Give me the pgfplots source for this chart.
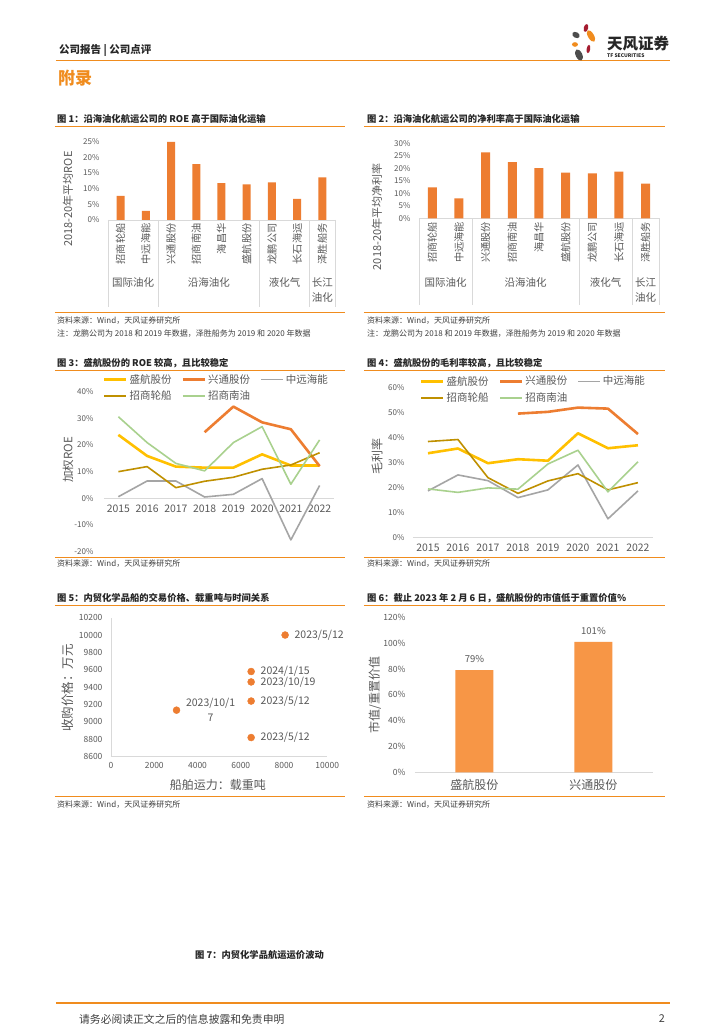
\documentclass[border=0pt]{standalone}
\usepackage{fontspec}
\setmainfont{Noto Sans CJK SC}
\usepackage{pgfplots}
\pgfplotsset{compat=1.18}
\newcommand{\fs}[1]{\fontsize{#1}{#1}\selectfont}
\definecolor{tfo}{HTML}{F08C1E}
\definecolor{bar}{HTML}{ED7D31}
\definecolor{bar6}{HTML}{F79646}
\definecolor{txt}{HTML}{595959}
\definecolor{axl}{HTML}{D9D9D9}
\definecolor{ttl}{HTML}{262626}
\definecolor{src}{HTML}{404040}
\definecolor{c1}{HTML}{FFC000}
\definecolor{c2}{HTML}{ED7D31}
\definecolor{c3}{HTML}{A5A5A5}
\definecolor{c4}{HTML}{BF9000}
\definecolor{c5}{HTML}{A9D18E}
\definecolor{lred}{HTML}{A51C30}
\definecolor{lgray}{HTML}{4D4D4D}
\pgfplotsset{every axis/.append style={scale only axis, clip=false, anchor=south west,
  /pgf/number format/assume math mode=true, major tick length=0pt,
  tick label style={text=txt}}}
\begin{document}
\begin{tikzpicture}
\path[fill=white] (0pt,0pt) rectangle (724pt,1024pt);
\begin{scope}[shift={(0pt,1024pt)}, x=1pt, y=-1pt]
% header
\node[anchor=west, font=\fs{10.5}\bfseries, text=ttl, inner sep=0pt] at (59,50.7) {公司报告 | 公司点评};
\draw[tfo, line width=1.6pt] (56,60.7) -- (670,60.7);
\node[anchor=west, font=\fs{17}\bfseries, text=tfo, inner sep=0pt] at (58,78) {附录};
% logo
\fill[lred, rotate around={-15:(586,28)}] (586,28) ellipse [x radius=2.2pt, y radius=4pt];
\fill[tfo, rotate around={30:(591,36)}] (591,36) ellipse [x radius=3pt, y radius=6.5pt];
\fill[lgray, rotate around={-30:(576,35)}] (576,35) ellipse [x radius=4pt, y radius=2.8pt];
\fill[tfo] (575,44.5) ellipse [x radius=3pt, y radius=2.3pt];
\fill[lred, rotate around={-10:(588.5,49)}] (588.5,49) ellipse [x radius=1.8pt, y radius=4.2pt];
\fill[lgray, rotate around={25:(579,55)}] (579,55) ellipse [x radius=3.3pt, y radius=6pt];
\node[anchor=west, font=\fs{15.5}\bfseries, text=ttl, inner sep=0pt] at (607,43.5) {天风证券};
\node[anchor=west, font=\fs{5}\bfseries, text=ttl, inner sep=0pt] at (607,56) {TF SECURITIES};
% chart 1 texts
\node[anchor=west, font=\fs{9.3}\bfseries, text=ttl, inner sep=0pt] at (57,119) {图 1：沿海油化航运公司的 ROE 高于国际油化运输};
\draw[tfo, line width=1pt] (55,126.5) -- (345,126.5);
\node[rotate=90, font=\fs{11}, text=txt] at (68,199) {2018-20年平均ROE};
\draw[tfo, line width=1pt] (55,312.7) -- (345,312.7);
\node[anchor=west, font=\fs{8}, text=src, inner sep=0pt] at (57,321) {资料来源：Wind，天风证券研究所};
\node[anchor=west, font=\fs{8}, text=src, inner sep=0pt] at (57,334) {注：龙鹏公司为 2018 和 2019 年数据，泽胜船务为 2019 和 2020 年数据};
% chart 2 texts
\node[anchor=west, font=\fs{9.3}\bfseries, text=ttl, inner sep=0pt] at (367,119) {图 2：沿海油化航运公司的净利率高于国际油化运输};
\draw[tfo, line width=1pt] (364,126.5) -- (665,126.5);
\node[rotate=90, font=\fs{11}, text=txt] at (377,217) {2018-20年平均净利率};
\draw[tfo, line width=1pt] (364,312.7) -- (665,312.7);
\node[anchor=west, font=\fs{8}, text=src, inner sep=0pt] at (367,321) {资料来源：Wind，天风证券研究所};
\node[anchor=west, font=\fs{8}, text=src, inner sep=0pt] at (367,334) {注：龙鹏公司为 2018 和 2019 年数据，泽胜船务为 2019 和 2020 年数据};
% chart 3 texts
\node[anchor=west, font=\fs{9.3}\bfseries, text=ttl, inner sep=0pt] at (57,363) {图 3：盛航股份的 ROE 较高，且比较稳定};
\draw[tfo, line width=1pt] (55,371) -- (345,371);
\node[rotate=90, font=\fs{11.5}, text=txt] at (68,460) {加权ROE};
\draw[tfo, line width=1pt] (55,557.3) -- (345,557.3);
\node[anchor=west, font=\fs{8}, text=src, inner sep=0pt] at (57,564) {资料来源：Wind，天风证券研究所};
% chart 4 texts
\node[anchor=west, font=\fs{9.3}\bfseries, text=ttl, inner sep=0pt] at (367,363) {图 4：盛航股份的毛利率较高，且比较稳定};
\draw[tfo, line width=1pt] (364,371) -- (665,371);
\node[rotate=90, font=\fs{12}, text=txt] at (377,457) {毛利率};
\draw[tfo, line width=1pt] (364,557.3) -- (665,557.3);
\node[anchor=west, font=\fs{8}, text=src, inner sep=0pt] at (367,564) {资料来源：Wind，天风证券研究所};
% chart 5 texts
\node[anchor=west, font=\fs{9.3}\bfseries, text=ttl, inner sep=0pt] at (57,598) {图 5：内贸化学品船的交易价格、载重吨与时间关系};
\draw[tfo, line width=1pt] (55,606) -- (345,606);
\node[rotate=90, font=\fs{12.5}, text=txt] at (68,688) {收购价格：万元};
\node[font=\fs{12}, text=txt] at (218,785) {船舶运力：载重吨};
\draw[tfo, line width=1pt] (55,797) -- (345,797);
\node[anchor=west, font=\fs{8}, text=src, inner sep=0pt] at (57,805) {资料来源：Wind，天风证券研究所};
% chart 6 texts
\node[anchor=west, font=\fs{9.3}\bfseries, text=ttl, inner sep=0pt] at (367,598) {图 6：截止 2023 年 2 月 6 日，盛航股份的市值低于重置价值\%};
\draw[tfo, line width=1pt] (364,606) -- (665,606);
\node[rotate=90, font=\fs{12}, text=txt] at (375,695) {市值/重置价值};
\draw[tfo, line width=1pt] (364,797) -- (665,797);
\node[anchor=west, font=\fs{8}, text=src, inner sep=0pt] at (367,805) {资料来源：Wind，天风证券研究所};
% figure 7 & footer
\node[anchor=west, font=\fs{9.3}\bfseries, text=ttl, inner sep=0pt] at (195,955) {图 7：内贸化学品航运运价波动};
\draw[tfo, line width=1.6pt] (56,1003) -- (670,1003);
\node[anchor=west, font=\fs{10.8}, text=src, inner sep=0pt] at (79,1019) {请务必阅读正文之后的信息披露和免责申明};
\node[anchor=east, font=\fs{10.8}, text=src, inner sep=0pt] at (665,1019) {2};
\end{scope}

% ---------- chart 1 ----------
\begin{axis}[at={(108pt,804pt)}, width=227pt, height=78.3pt,
  xmin=0, xmax=9, ymin=0, ymax=25,
  axis x line*=bottom, axis y line*=left,
  x axis line style={draw=axl, line width=0.8pt}, y axis line style={draw=none},
  xtick={0.5,1.5,2.5,3.5,4.5,5.5,6.5,7.5,8.5},
  xticklabels={招商轮船,中远海能,兴通股份,招商南油,海昌华,盛航股份,龙鹏公司,长石海运,泽胜船务},
  xticklabel style={rotate=90, anchor=east, font=\fs{10.2}},
  ytick={0,5,...,25}, yticklabel={\pgfmathprintnumber{\tick}\%},
  yticklabel style={font=\fs{8}, xshift=-5pt}]
\addplot[ybar, bar width=8pt, fill=bar, draw=none] coordinates {(0.5,7.7)(1.5,2.9)(2.5,24.9)(3.5,17.8)(4.5,11.8)(5.5,11.4)(6.5,12.0)(7.5,6.7)(8.5,13.6)};
\pgfplotsinvokeforeach{0,2,6,8,9}{\draw[axl, line width=0.8pt] (axis cs:#1,0) -- ++(0pt,-87pt);}
\node[font=\fs{10.5}, text=txt, yshift=-63pt] at (axis cs:1,0) {国际油化};
\node[font=\fs{10.5}, text=txt, yshift=-63pt] at (axis cs:4,0) {沿海油化};
\node[font=\fs{10.5}, text=txt, yshift=-63pt] at (axis cs:7,0) {液化气};
\node[font=\fontsize{10.5}{15}\selectfont, align=center, text=txt, yshift=-70.5pt] at (axis cs:8.5,0) {长江\\油化};
\end{axis}

% ---------- chart 2 ----------
\begin{axis}[at={(419pt,805.7pt)}, width=240pt, height=75pt,
  xmin=0, xmax=9, ymin=0, ymax=30,
  axis x line*=bottom, axis y line*=left,
  x axis line style={draw=axl, line width=0.8pt}, y axis line style={draw=none},
  xtick={0.5,1.5,2.5,3.5,4.5,5.5,6.5,7.5,8.5},
  xticklabels={招商轮船,中远海能,兴通股份,招商南油,海昌华,盛航股份,龙鹏公司,长石海运,泽胜船务},
  xticklabel style={rotate=90, anchor=east, font=\fs{10.2}},
  ytick={0,5,...,30}, yticklabel={\pgfmathprintnumber{\tick}\%},
  yticklabel style={font=\fs{8}, xshift=-5pt}]
\addplot[ybar, bar width=9pt, fill=bar, draw=none] coordinates {(0.5,12.4)(1.5,8.0)(2.5,26.4)(3.5,22.5)(4.5,20.1)(5.5,18.3)(6.5,18.0)(7.5,18.7)(8.5,13.9)};
\pgfplotsinvokeforeach{0,2,6,8,9}{\draw[axl, line width=0.8pt] (axis cs:#1,0) -- ++(0pt,-87pt);}
\node[font=\fs{10.5}, text=txt, yshift=-64pt] at (axis cs:1,0) {国际油化};
\node[font=\fs{10.5}, text=txt, yshift=-64pt] at (axis cs:4,0) {沿海油化};
\node[font=\fs{10.5}, text=txt, yshift=-64pt] at (axis cs:7,0) {液化气};
\node[font=\fontsize{10.5}{15}\selectfont, align=center, text=txt, yshift=-71.5pt] at (axis cs:8.5,0) {长江\\油化};
\end{axis}

% ---------- chart 3 ----------
\begin{axis}[at={(104pt,472.3pt)}, width=230pt, height=160pt,
  xmin=2014.5, xmax=2022.5, ymin=-20, ymax=40,
  axis x line*=middle, axis y line*=left,
  x axis line style={draw=axl, line width=0.8pt}, y axis line style={draw=none},
  xtick={2015,...,2022}, xticklabels={2015,2016,2017,2018,2019,2020,2021,2022},
  xticklabel style={font=\fs{10.4}, yshift=-3pt},
  ytick={-20,-10,...,40}, yticklabel={\pgfmathprintnumber{\tick}\%},
  yticklabel style={font=\fs{8}, xshift=-7pt},
  legend columns=3, legend cell align=left,
  legend style={at={(-0.005,1.123)}, anchor=north west, draw=none, fill=none,
    font=\fs{10.5}, text=txt, inner sep=0pt, row sep=2pt,
    /tikz/every even column/.append style={column sep=8pt}},
  legend image code/.code={\draw[#1] (0pt,0pt) -- (22pt,0pt);}]
\addplot[c1, line width=2.6pt, line join=round] coordinates {(2015,23.8)(2016,15.9)(2017,11.9)(2018,11.5)(2019,11.5)(2020,16.5)(2021,12.3)(2022,12.3)};
\addlegendentry{盛航股份}
\addplot[c2, line width=2.6pt, line join=round] coordinates {(2018,24.8)(2019,34.4)(2020,28.5)(2021,25.9)(2022,12.1)};
\addlegendentry{兴通股份}
\addplot[c3, line width=1.6pt, line join=round] coordinates {(2015,0.6)(2016,6.5)(2017,6.5)(2018,0.5)(2019,1.5)(2020,7.4)(2021,-15.6)(2022,4.8)};
\addlegendentry{中远海能}
\addplot[c4, line width=1.6pt, line join=round] coordinates {(2015,10)(2016,11.9)(2017,4)(2018,6.4)(2019,7.9)(2020,10.9)(2021,12.5)(2022,17.1)};
\addlegendentry{招商轮船}
\addplot[c5, line width=1.6pt, line join=round] coordinates {(2015,30.6)(2016,20.9)(2017,13.1)(2018,10.3)(2019,20.9)(2020,26.9)(2021,5.3)(2022,21.9)};
\addlegendentry{招商南油}
\end{axis}

% ---------- chart 4 ----------
\begin{axis}[at={(413pt,486.7pt)}, width=240pt, height=149.6pt,
  xmin=2014.5, xmax=2022.5, ymin=0, ymax=60,
  axis x line*=bottom, axis y line*=left,
  x axis line style={draw=axl, line width=0.8pt}, y axis line style={draw=none},
  xtick={2015,...,2022}, xticklabels={2015,2016,2017,2018,2019,2020,2021,2022},
  xticklabel style={font=\fs{10.4}, yshift=-3pt},
  ytick={0,10,...,60}, yticklabel={\pgfmathprintnumber{\tick}\%},
  yticklabel style={font=\fs{8}, xshift=-5pt},
  legend columns=3, legend cell align=left,
  legend style={at={(0.029,1.092)}, anchor=north west, draw=none, fill=none,
    font=\fs{10.5}, text=txt, inner sep=0pt, row sep=2pt,
    /tikz/every even column/.append style={column sep=8pt}},
  legend image code/.code={\draw[#1] (0pt,0pt) -- (22pt,0pt);}]
\addplot[c1, line width=2.6pt, line join=round] coordinates {(2015,33.7)(2016,35.6)(2017,29.7)(2018,31.3)(2019,30.7)(2020,41.7)(2021,35.7)(2022,36.9)};
\addlegendentry{盛航股份}
\addplot[c2, line width=2.6pt, line join=round] coordinates {(2018,49.6)(2019,50.3)(2020,52.0)(2021,51.6)(2022,41.4)};
\addlegendentry{兴通股份}
\addplot[c3, line width=1.6pt, line join=round] coordinates {(2015,18.6)(2016,25.0)(2017,22.7)(2018,15.9)(2019,19.0)(2020,29.0)(2021,7.4)(2022,18.6)};
\addlegendentry{中远海能}
\addplot[c4, line width=1.6pt, line join=round] coordinates {(2015,38.4)(2016,39.2)(2017,23.9)(2018,17.6)(2019,22.6)(2020,25.5)(2021,19.0)(2022,21.9)};
\addlegendentry{招商轮船}
\addplot[c5, line width=1.6pt, line join=round] coordinates {(2015,19.4)(2016,18.0)(2017,19.8)(2018,19.3)(2019,29.4)(2020,34.9)(2021,18.2)(2022,30.3)};
\addlegendentry{招商南油}
\end{axis}

% ---------- chart 5 ----------
\begin{axis}[at={(111pt,267.3pt)}, width=216.3pt, height=139pt,
  xmin=0, xmax=10000, ymin=8600, ymax=10200,
  axis x line*=bottom, axis y line*=left,
  axis line style={draw=axl, line width=0.8pt},
  scaled ticks=false,
  xtick={0,2000,4000,6000,8000,10000}, ytick={8600,8800,9000,9200,9400,9600,9800,10000,10200},
  xticklabel style={font=\fs{8.5}, yshift=-2pt, /pgf/number format/1000 sep={}},
  yticklabel style={font=\fs{8.5}, xshift=-5pt, /pgf/number format/1000 sep={}}]
\addplot[only marks, mark=*, mark size=3.5pt, color=bar,
  nodes near coords, point meta=explicit symbolic,
  every node near coord/.append style={anchor=west, xshift=6pt, font=\fs{10.5}, text=txt}]
  table[meta=label] {
x y label
8050 10000 2023/5/12
6480 9580 2024/1/15
6480 9460 2023/10/19
6480 9240 2023/5/12
6480 8820 2023/5/12
};
\addplot[only marks, mark=*, mark size=3.5pt, color=bar,
  nodes near coords={2023/10/1\\7},
  every node near coord/.append style={anchor=west, xshift=6pt, align=center, font=\fontsize{10.5}{15}\selectfont, text=txt}]
  coordinates {(3030,9135)};
\end{axis}

% ---------- chart 6 ----------
\begin{axis}[at={(415pt,251.7pt)}, width=238pt, height=155pt,
  xmin=-0.5, xmax=1.5, ymin=0, ymax=120,
  axis x line*=bottom, axis y line*=left,
  x axis line style={draw=axl, line width=0.8pt}, y axis line style={draw=none},
  xtick={0,1}, xticklabels={盛航股份,兴通股份},
  xticklabel style={font=\fs{12}, yshift=-4pt},
  ytick={0,20,...,120}, yticklabel={\pgfmathprintnumber{\tick}\%},
  yticklabel style={font=\fs{8.5}, xshift=-6pt}]
\addplot[ybar, bar width=38pt, fill=bar6, draw=none, point meta=y,
  nodes near coords={\pgfmathprintnumber{\pgfplotspointmeta}\%},
  every node near coord/.append style={font=\fs{9.5}, text=txt, yshift=4pt}]
  coordinates {(0,79)(1,101)};
\end{axis}
\end{tikzpicture}
\end{document}
